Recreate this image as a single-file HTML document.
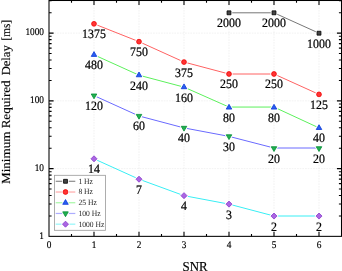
<!DOCTYPE html>
<html><head><meta charset="utf-8"><style>html,body{margin:0;padding:0;background:#fff;width:342px;height:271px;overflow:hidden}svg{display:block}</style></head>
<body><div style="will-change:transform"><svg width="342" height="271" viewBox="0 0 342 271" font-family='"Liberation Serif", serif' fill="#000" text-rendering="geometricPrecision"><line x1="94.00" y1="0.5" x2="94.00" y2="236.35" stroke="#d4d4d4" stroke-width="0.6" stroke-dasharray="0.5 1.1"/><line x1="139.00" y1="0.5" x2="139.00" y2="236.35" stroke="#d4d4d4" stroke-width="0.6" stroke-dasharray="0.5 1.1"/><line x1="184.00" y1="0.5" x2="184.00" y2="236.35" stroke="#d4d4d4" stroke-width="0.6" stroke-dasharray="0.5 1.1"/><line x1="229.00" y1="0.5" x2="229.00" y2="236.35" stroke="#d4d4d4" stroke-width="0.6" stroke-dasharray="0.5 1.1"/><line x1="274.00" y1="0.5" x2="274.00" y2="236.35" stroke="#d4d4d4" stroke-width="0.6" stroke-dasharray="0.5 1.1"/><line x1="319.00" y1="0.5" x2="319.00" y2="236.35" stroke="#d4d4d4" stroke-width="0.6" stroke-dasharray="0.5 1.1"/><line x1="49.00" y1="168.60" x2="341.5" y2="168.60" stroke="#d4d4d4" stroke-width="0.6" stroke-dasharray="0.5 1.1"/><line x1="49.00" y1="100.85" x2="341.5" y2="100.85" stroke="#d4d4d4" stroke-width="0.6" stroke-dasharray="0.5 1.1"/><line x1="49.00" y1="33.10" x2="341.5" y2="33.10" stroke="#d4d4d4" stroke-width="0.6" stroke-dasharray="0.5 1.1"/><path d="M94.00 236.35v-4.6M94.00 0.5v4.6M139.00 236.35v-4.6M139.00 0.5v4.6M184.00 236.35v-4.6M184.00 0.5v4.6M229.00 236.35v-4.6M229.00 0.5v4.6M274.00 236.35v-4.6M274.00 0.5v4.6M319.00 236.35v-4.6M319.00 0.5v4.6M71.50 236.35v-2.3M71.50 0.5v2.3M116.50 236.35v-2.3M116.50 0.5v2.3M161.50 236.35v-2.3M161.50 0.5v2.3M206.50 236.35v-2.3M206.50 0.5v2.3M251.50 236.35v-2.3M251.50 0.5v2.3M296.50 236.35v-2.3M296.50 0.5v2.3M49.00 215.96h2.6M341.5 215.96h-2.6M49.00 204.03h2.6M341.5 204.03h-2.6M49.00 195.56h2.6M341.5 195.56h-2.6M49.00 188.99h2.6M341.5 188.99h-2.6M49.00 183.63h2.6M341.5 183.63h-2.6M49.00 179.09h2.6M341.5 179.09h-2.6M49.00 175.17h2.6M341.5 175.17h-2.6M49.00 171.70h2.6M341.5 171.70h-2.6M49.00 168.60h4.6M341.5 168.60h-4.6M49.00 148.21h2.6M341.5 148.21h-2.6M49.00 136.28h2.6M341.5 136.28h-2.6M49.00 127.81h2.6M341.5 127.81h-2.6M49.00 121.24h2.6M341.5 121.24h-2.6M49.00 115.88h2.6M341.5 115.88h-2.6M49.00 111.34h2.6M341.5 111.34h-2.6M49.00 107.42h2.6M341.5 107.42h-2.6M49.00 103.95h2.6M341.5 103.95h-2.6M49.00 100.85h4.6M341.5 100.85h-4.6M49.00 80.46h2.6M341.5 80.46h-2.6M49.00 68.53h2.6M341.5 68.53h-2.6M49.00 60.06h2.6M341.5 60.06h-2.6M49.00 53.49h2.6M341.5 53.49h-2.6M49.00 48.13h2.6M341.5 48.13h-2.6M49.00 43.59h2.6M341.5 43.59h-2.6M49.00 39.67h2.6M341.5 39.67h-2.6M49.00 36.20h2.6M341.5 36.20h-2.6M49.00 33.10h4.6M341.5 33.10h-4.6M49.00 12.71h2.6M341.5 12.71h-2.6M49.00 0.78h2.6M341.5 0.78h-2.6" stroke="#000" stroke-width="1.1" fill="none"/><polyline points="229.00,12.81 274.00,12.81 319.00,33.20" fill="none" stroke="#777" stroke-width="1.0"/><polyline points="94.00,23.83 139.00,41.66 184.00,62.06 229.00,74.00 274.00,74.00 319.00,94.38" fill="none" stroke="#ff6262" stroke-width="1.0"/><polyline points="94.00,54.80 139.00,75.19 184.00,87.12 229.00,107.05 274.00,107.05 319.00,127.91" fill="none" stroke="#5cf05c" stroke-width="1.0"/><polyline points="94.00,95.59 139.00,115.98 184.00,127.91 229.00,136.38 274.00,148.00 319.00,148.00" fill="none" stroke="#6a6aff" stroke-width="1.0"/><polyline points="94.00,158.80 139.00,179.19 184.00,195.66 229.00,204.13 274.00,216.00 319.00,216.00" fill="none" stroke="#38eef4" stroke-width="1.0"/><rect x="227.05" y="10.86" width="3.90" height="3.90" fill="#fff" stroke="#fff" stroke-width="2.6" stroke-linejoin="round"/><rect x="227.05" y="10.86" width="3.90" height="3.90" fill="#444" stroke="#000" stroke-width="0.8" stroke-linejoin="round"/><rect x="272.05" y="10.86" width="3.90" height="3.90" fill="#fff" stroke="#fff" stroke-width="2.6" stroke-linejoin="round"/><rect x="272.05" y="10.86" width="3.90" height="3.90" fill="#444" stroke="#000" stroke-width="0.8" stroke-linejoin="round"/><rect x="317.05" y="31.25" width="3.90" height="3.90" fill="#fff" stroke="#fff" stroke-width="2.6" stroke-linejoin="round"/><rect x="317.05" y="31.25" width="3.90" height="3.90" fill="#444" stroke="#000" stroke-width="0.8" stroke-linejoin="round"/><circle cx="94.00" cy="23.83" r="2.40" fill="#fff" stroke="#fff" stroke-width="2.6" stroke-linejoin="round"/><circle cx="94.00" cy="23.83" r="2.40" fill="#ff3434" stroke="#f00000" stroke-width="0.8" stroke-linejoin="round"/><circle cx="139.00" cy="41.66" r="2.40" fill="#fff" stroke="#fff" stroke-width="2.6" stroke-linejoin="round"/><circle cx="139.00" cy="41.66" r="2.40" fill="#ff3434" stroke="#f00000" stroke-width="0.8" stroke-linejoin="round"/><circle cx="184.00" cy="62.06" r="2.40" fill="#fff" stroke="#fff" stroke-width="2.6" stroke-linejoin="round"/><circle cx="184.00" cy="62.06" r="2.40" fill="#ff3434" stroke="#f00000" stroke-width="0.8" stroke-linejoin="round"/><circle cx="229.00" cy="73.99" r="2.40" fill="#fff" stroke="#fff" stroke-width="2.6" stroke-linejoin="round"/><circle cx="229.00" cy="73.99" r="2.40" fill="#ff3434" stroke="#f00000" stroke-width="0.8" stroke-linejoin="round"/><circle cx="274.00" cy="73.99" r="2.40" fill="#fff" stroke="#fff" stroke-width="2.6" stroke-linejoin="round"/><circle cx="274.00" cy="73.99" r="2.40" fill="#ff3434" stroke="#f00000" stroke-width="0.8" stroke-linejoin="round"/><circle cx="319.00" cy="94.38" r="2.40" fill="#fff" stroke="#fff" stroke-width="2.6" stroke-linejoin="round"/><circle cx="319.00" cy="94.38" r="2.40" fill="#ff3434" stroke="#f00000" stroke-width="0.8" stroke-linejoin="round"/><path d="M94.00 51.60L96.77 56.40L91.23 56.40Z" fill="#fff" stroke="#fff" stroke-width="2.6" stroke-linejoin="round"/><path d="M94.00 51.60L96.77 56.40L91.23 56.40Z" fill="#2a5ef0" stroke="#0a38d8" stroke-width="0.8" stroke-linejoin="round"/><path d="M139.00 71.99L141.77 76.79L136.23 76.79Z" fill="#fff" stroke="#fff" stroke-width="2.6" stroke-linejoin="round"/><path d="M139.00 71.99L141.77 76.79L136.23 76.79Z" fill="#2a5ef0" stroke="#0a38d8" stroke-width="0.8" stroke-linejoin="round"/><path d="M184.00 83.92L186.77 88.72L181.23 88.72Z" fill="#fff" stroke="#fff" stroke-width="2.6" stroke-linejoin="round"/><path d="M184.00 83.92L186.77 88.72L181.23 88.72Z" fill="#2a5ef0" stroke="#0a38d8" stroke-width="0.8" stroke-linejoin="round"/><path d="M229.00 104.32L231.77 109.12L226.23 109.12Z" fill="#fff" stroke="#fff" stroke-width="2.6" stroke-linejoin="round"/><path d="M229.00 104.32L231.77 109.12L226.23 109.12Z" fill="#2a5ef0" stroke="#0a38d8" stroke-width="0.8" stroke-linejoin="round"/><path d="M274.00 104.32L276.77 109.12L271.23 109.12Z" fill="#fff" stroke="#fff" stroke-width="2.6" stroke-linejoin="round"/><path d="M274.00 104.32L276.77 109.12L271.23 109.12Z" fill="#2a5ef0" stroke="#0a38d8" stroke-width="0.8" stroke-linejoin="round"/><path d="M319.00 124.71L321.77 129.51L316.23 129.51Z" fill="#fff" stroke="#fff" stroke-width="2.6" stroke-linejoin="round"/><path d="M319.00 124.71L321.77 129.51L316.23 129.51Z" fill="#2a5ef0" stroke="#0a38d8" stroke-width="0.8" stroke-linejoin="round"/><path d="M94.00 98.79L96.77 93.99L91.23 93.99Z" fill="#fff" stroke="#fff" stroke-width="2.6" stroke-linejoin="round"/><path d="M94.00 98.79L96.77 93.99L91.23 93.99Z" fill="#22b050" stroke="#008c34" stroke-width="0.8" stroke-linejoin="round"/><path d="M139.00 119.18L141.77 114.38L136.23 114.38Z" fill="#fff" stroke="#fff" stroke-width="2.6" stroke-linejoin="round"/><path d="M139.00 119.18L141.77 114.38L136.23 114.38Z" fill="#22b050" stroke="#008c34" stroke-width="0.8" stroke-linejoin="round"/><path d="M184.00 131.11L186.77 126.31L181.23 126.31Z" fill="#fff" stroke="#fff" stroke-width="2.6" stroke-linejoin="round"/><path d="M184.00 131.11L186.77 126.31L181.23 126.31Z" fill="#22b050" stroke="#008c34" stroke-width="0.8" stroke-linejoin="round"/><path d="M229.00 139.58L231.77 134.78L226.23 134.78Z" fill="#fff" stroke="#fff" stroke-width="2.6" stroke-linejoin="round"/><path d="M229.00 139.58L231.77 134.78L226.23 134.78Z" fill="#22b050" stroke="#008c34" stroke-width="0.8" stroke-linejoin="round"/><path d="M274.00 151.51L276.77 146.71L271.23 146.71Z" fill="#fff" stroke="#fff" stroke-width="2.6" stroke-linejoin="round"/><path d="M274.00 151.51L276.77 146.71L271.23 146.71Z" fill="#22b050" stroke="#008c34" stroke-width="0.8" stroke-linejoin="round"/><path d="M319.00 151.51L321.77 146.71L316.23 146.71Z" fill="#fff" stroke="#fff" stroke-width="2.6" stroke-linejoin="round"/><path d="M319.00 151.51L321.77 146.71L316.23 146.71Z" fill="#22b050" stroke="#008c34" stroke-width="0.8" stroke-linejoin="round"/><path d="M94.00 155.77L97.03 158.80L94.00 161.83L90.97 158.80Z" fill="#fff" stroke="#fff" stroke-width="2.6" stroke-linejoin="round"/><path d="M94.00 155.77L97.03 158.80L94.00 161.83L90.97 158.80Z" fill="#aa66e2" stroke="#8838cc" stroke-width="0.8" stroke-linejoin="round"/><path d="M139.00 176.16L142.03 179.19L139.00 182.23L135.97 179.19Z" fill="#fff" stroke="#fff" stroke-width="2.6" stroke-linejoin="round"/><path d="M139.00 176.16L142.03 179.19L139.00 182.23L135.97 179.19Z" fill="#aa66e2" stroke="#8838cc" stroke-width="0.8" stroke-linejoin="round"/><path d="M184.00 192.63L187.03 195.66L184.00 198.69L180.97 195.66Z" fill="#fff" stroke="#fff" stroke-width="2.6" stroke-linejoin="round"/><path d="M184.00 192.63L187.03 195.66L184.00 198.69L180.97 195.66Z" fill="#aa66e2" stroke="#8838cc" stroke-width="0.8" stroke-linejoin="round"/><path d="M229.00 201.09L232.03 204.13L229.00 207.16L225.97 204.13Z" fill="#fff" stroke="#fff" stroke-width="2.6" stroke-linejoin="round"/><path d="M229.00 201.09L232.03 204.13L229.00 207.16L225.97 204.13Z" fill="#aa66e2" stroke="#8838cc" stroke-width="0.8" stroke-linejoin="round"/><path d="M274.00 213.02L277.03 216.06L274.00 219.09L270.97 216.06Z" fill="#fff" stroke="#fff" stroke-width="2.6" stroke-linejoin="round"/><path d="M274.00 213.02L277.03 216.06L274.00 219.09L270.97 216.06Z" fill="#aa66e2" stroke="#8838cc" stroke-width="0.8" stroke-linejoin="round"/><path d="M319.00 213.02L322.03 216.06L319.00 219.09L315.97 216.06Z" fill="#fff" stroke="#fff" stroke-width="2.6" stroke-linejoin="round"/><path d="M319.00 213.02L322.03 216.06L319.00 219.09L315.97 216.06Z" fill="#aa66e2" stroke="#8838cc" stroke-width="0.8" stroke-linejoin="round"/><text transform="translate(229.00,27.31) scale(1,1.08)" font-size="11.9" text-anchor="middle" stroke="#000" stroke-width="0.22">2000</text><text transform="translate(274.00,27.31) scale(1,1.08)" font-size="11.9" text-anchor="middle" stroke="#000" stroke-width="0.22">2000</text><text transform="translate(319.00,47.70) scale(1,1.08)" font-size="11.9" text-anchor="middle" stroke="#000" stroke-width="0.22">1000</text><text transform="translate(94.00,38.33) scale(1,1.08)" font-size="11.9" text-anchor="middle" stroke="#000" stroke-width="0.22">1375</text><text transform="translate(139.00,56.16) scale(1,1.08)" font-size="11.9" text-anchor="middle" stroke="#000" stroke-width="0.22">750</text><text transform="translate(184.00,76.56) scale(1,1.08)" font-size="11.9" text-anchor="middle" stroke="#000" stroke-width="0.22">375</text><text transform="translate(229.00,88.49) scale(1,1.08)" font-size="11.9" text-anchor="middle" stroke="#000" stroke-width="0.22">250</text><text transform="translate(274.00,88.49) scale(1,1.08)" font-size="11.9" text-anchor="middle" stroke="#000" stroke-width="0.22">250</text><text transform="translate(319.00,108.88) scale(1,1.08)" font-size="11.9" text-anchor="middle" stroke="#000" stroke-width="0.22">125</text><text transform="translate(94.00,69.30) scale(1,1.08)" font-size="11.9" text-anchor="middle" stroke="#000" stroke-width="0.22">480</text><text transform="translate(139.00,89.69) scale(1,1.08)" font-size="11.9" text-anchor="middle" stroke="#000" stroke-width="0.22">240</text><text transform="translate(184.00,101.62) scale(1,1.08)" font-size="11.9" text-anchor="middle" stroke="#000" stroke-width="0.22">160</text><text transform="translate(229.00,122.02) scale(1,1.08)" font-size="11.9" text-anchor="middle" stroke="#000" stroke-width="0.22">80</text><text transform="translate(274.00,122.02) scale(1,1.08)" font-size="11.9" text-anchor="middle" stroke="#000" stroke-width="0.22">80</text><text transform="translate(319.00,142.41) scale(1,1.08)" font-size="11.9" text-anchor="middle" stroke="#000" stroke-width="0.22">40</text><text transform="translate(94.00,110.09) scale(1,1.08)" font-size="11.9" text-anchor="middle" stroke="#000" stroke-width="0.22">120</text><text transform="translate(139.00,130.48) scale(1,1.08)" font-size="11.9" text-anchor="middle" stroke="#000" stroke-width="0.22">60</text><text transform="translate(184.00,142.41) scale(1,1.08)" font-size="11.9" text-anchor="middle" stroke="#000" stroke-width="0.22">40</text><text transform="translate(229.00,150.88) scale(1,1.08)" font-size="11.9" text-anchor="middle" stroke="#000" stroke-width="0.22">30</text><text transform="translate(274.00,162.81) scale(1,1.08)" font-size="11.9" text-anchor="middle" stroke="#000" stroke-width="0.22">20</text><text transform="translate(319.00,162.81) scale(1,1.08)" font-size="11.9" text-anchor="middle" stroke="#000" stroke-width="0.22">20</text><text transform="translate(94.00,173.30) scale(1,1.08)" font-size="11.9" text-anchor="middle" stroke="#000" stroke-width="0.22">14</text><text transform="translate(139.00,193.69) scale(1,1.08)" font-size="11.9" text-anchor="middle" stroke="#000" stroke-width="0.22">7</text><text transform="translate(184.00,210.16) scale(1,1.08)" font-size="11.9" text-anchor="middle" stroke="#000" stroke-width="0.22">4</text><text transform="translate(229.00,218.63) scale(1,1.08)" font-size="11.9" text-anchor="middle" stroke="#000" stroke-width="0.22">3</text><text transform="translate(274.00,230.56) scale(1,1.08)" font-size="11.9" text-anchor="middle" stroke="#000" stroke-width="0.22">2</text><text transform="translate(319.00,230.56) scale(1,1.08)" font-size="11.9" text-anchor="middle" stroke="#000" stroke-width="0.22">2</text><rect x="49.00" y="0.5" width="292.50" height="235.85" fill="none" stroke="#000" stroke-width="1.05"/><rect x="54.4" y="175.3" width="51.10" height="55.00" fill="#fff" stroke="#999" stroke-width="0.8"/><line x1="55.7" y1="181.30" x2="75.3" y2="181.30" stroke="#777" stroke-width="1.2" stroke-opacity="0.85"/><rect x="63.55" y="179.35" width="3.90" height="3.90" fill="#fff" stroke="#fff" stroke-width="2.6" stroke-linejoin="round"/><rect x="63.55" y="179.35" width="3.90" height="3.90" fill="#444" stroke="#000" stroke-width="0.8" stroke-linejoin="round"/><text transform="translate(78.40,183.70) scale(1,1.05)" font-size="7.6" text-anchor="start" fill="#1a1a1a">1 Hz</text><line x1="55.7" y1="192.02" x2="75.3" y2="192.02" stroke="#ff6262" stroke-width="1.2" stroke-opacity="0.55"/><circle cx="65.50" cy="192.02" r="2.40" fill="#fff" stroke="#fff" stroke-width="2.6" stroke-linejoin="round"/><circle cx="65.50" cy="192.02" r="2.40" fill="#ff3434" stroke="#f00000" stroke-width="0.8" stroke-linejoin="round"/><text transform="translate(78.40,194.42) scale(1,1.05)" font-size="7.6" text-anchor="start" fill="#1a1a1a">8 Hz</text><line x1="55.7" y1="202.74" x2="75.3" y2="202.74" stroke="#5cf05c" stroke-width="1.2" stroke-opacity="0.55"/><path d="M65.50 199.54L68.27 204.34L62.73 204.34Z" fill="#fff" stroke="#fff" stroke-width="2.6" stroke-linejoin="round"/><path d="M65.50 199.54L68.27 204.34L62.73 204.34Z" fill="#2a5ef0" stroke="#0a38d8" stroke-width="0.8" stroke-linejoin="round"/><text transform="translate(78.40,205.14) scale(1,1.05)" font-size="7.6" text-anchor="start" fill="#1a1a1a">25 Hz</text><line x1="55.7" y1="213.46" x2="75.3" y2="213.46" stroke="#6a6aff" stroke-width="1.2" stroke-opacity="0.55"/><path d="M65.50 216.66L68.27 211.86L62.73 211.86Z" fill="#fff" stroke="#fff" stroke-width="2.6" stroke-linejoin="round"/><path d="M65.50 216.66L68.27 211.86L62.73 211.86Z" fill="#22b050" stroke="#008c34" stroke-width="0.8" stroke-linejoin="round"/><text transform="translate(78.40,215.86) scale(1,1.05)" font-size="7.6" text-anchor="start" fill="#1a1a1a">100 Hz</text><line x1="55.7" y1="224.18" x2="75.3" y2="224.18" stroke="#38eef4" stroke-width="1.2" stroke-opacity="0.55"/><path d="M65.50 221.15L68.53 224.18L65.50 227.21L62.47 224.18Z" fill="#fff" stroke="#fff" stroke-width="2.6" stroke-linejoin="round"/><path d="M65.50 221.15L68.53 224.18L65.50 227.21L62.47 224.18Z" fill="#aa66e2" stroke="#8838cc" stroke-width="0.8" stroke-linejoin="round"/><text transform="translate(78.40,226.58) scale(1,1.05)" font-size="7.6" text-anchor="start" fill="#1a1a1a">1000 Hz</text><text transform="translate(49.00,247.50) scale(1,1.1)" font-size="9.3" text-anchor="middle" stroke="#000" stroke-width="0.15">0</text><text transform="translate(94.00,247.50) scale(1,1.1)" font-size="9.3" text-anchor="middle" stroke="#000" stroke-width="0.15">1</text><text transform="translate(139.00,247.50) scale(1,1.1)" font-size="9.3" text-anchor="middle" stroke="#000" stroke-width="0.15">2</text><text transform="translate(184.00,247.50) scale(1,1.1)" font-size="9.3" text-anchor="middle" stroke="#000" stroke-width="0.15">3</text><text transform="translate(229.00,247.50) scale(1,1.1)" font-size="9.3" text-anchor="middle" stroke="#000" stroke-width="0.15">4</text><text transform="translate(274.00,247.50) scale(1,1.1)" font-size="9.3" text-anchor="middle" stroke="#000" stroke-width="0.15">5</text><text transform="translate(319.00,247.50) scale(1,1.1)" font-size="9.3" text-anchor="middle" stroke="#000" stroke-width="0.15">6</text><text transform="translate(44.00,238.55) scale(1,1.1)" font-size="9.3" text-anchor="end" stroke="#000" stroke-width="0.15">1</text><text transform="translate(44.00,170.80) scale(1,1.1)" font-size="9.3" text-anchor="end" stroke="#000" stroke-width="0.15">10</text><text transform="translate(44.00,103.05) scale(1,1.1)" font-size="9.3" text-anchor="end" stroke="#000" stroke-width="0.15">100</text><text transform="translate(44.00,35.30) scale(1,1.1)" font-size="9.3" text-anchor="end" stroke="#000" stroke-width="0.15">1000</text><text transform="translate(195.00,270.90) scale(1.04,1.1)" font-size="12.4" text-anchor="middle" stroke="#000" stroke-width="0.15">SNR</text><text transform="translate(9.6,184.0) rotate(-90)" font-size="12.3" textLength="103.6" lengthAdjust="spacingAndGlyphs" stroke="#000" stroke-width="0.14">Minimum Required</text><text transform="translate(9.6,75.3) rotate(-90)" font-size="12.3" textLength="30.0" lengthAdjust="spacingAndGlyphs" stroke="#000" stroke-width="0.14">Delay</text><text transform="translate(9.6,40.4) rotate(-90)" font-size="12.3" textLength="20.4" lengthAdjust="spacingAndGlyphs" stroke="#000" stroke-width="0.14">[ms]</text></svg></div></body></html>
